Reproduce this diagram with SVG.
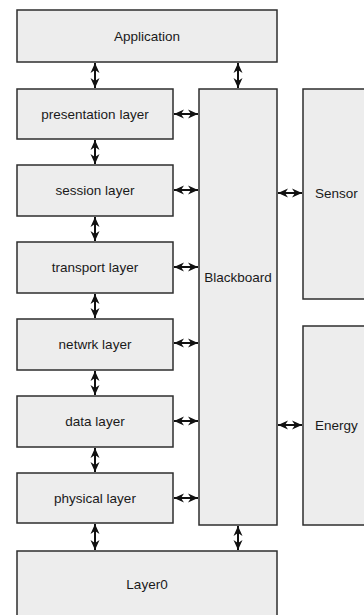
<svg xmlns="http://www.w3.org/2000/svg" width="364" height="615" viewBox="0 0 364 615">
  <style>
    .box { fill: #ededed; stroke: #2e2e2e; stroke-width: 1.5; }
    .lbl { font-family: "Liberation Sans", Arial, sans-serif; font-size: 13.5px; fill: #1a1a1a; text-anchor: middle; dominant-baseline: central; }
    .lbl-l { text-anchor: start; }
    .link { stroke: #111; stroke-width: 2; fill: none; marker-start: url(#head); marker-end: url(#head); }
  </style>
  <defs>
    <!-- notched double-ended arrow tip -->
    <marker id="head" viewBox="0 0 10 10" refX="10" refY="5" markerWidth="10" markerHeight="10" markerUnits="userSpaceOnUse" orient="auto-start-reverse">
      <path d="M10,5 L0,0.5 L3,5 L0,9.5 Z" fill="#111"/>
    </marker>
  </defs>
  <rect width="364" height="615" fill="#ffffff"/>

  <g id="application"><rect class="box" x="17" y="10" width="260" height="52"/><text class="lbl" x="147" y="36">Application</text></g>
  <g id="presentation"><rect class="box" x="17" y="89" width="156" height="50"/><text class="lbl" x="95" y="114">presentation layer</text></g>
  <g id="session"><rect class="box" x="17" y="165" width="156" height="51"/><text class="lbl" x="95" y="190">session layer</text></g>
  <g id="transport"><rect class="box" x="17" y="242" width="156" height="51"/><text class="lbl" x="95" y="267">transport layer</text></g>
  <g id="network"><rect class="box" x="17" y="319" width="156" height="51"/><text class="lbl" x="95" y="344">netwrk layer</text></g>
  <g id="data"><rect class="box" x="17" y="396" width="156" height="51"/><text class="lbl" x="95" y="421">data layer</text></g>
  <g id="physical"><rect class="box" x="17" y="473" width="156" height="50"/><text class="lbl" x="95" y="498">physical layer</text></g>
  <g id="layer0"><rect class="box" x="17" y="551" width="260" height="70"/><text class="lbl" x="147" y="584">Layer0</text></g>
  <g id="blackboard"><rect class="box" x="199" y="89" width="78" height="436"/><text class="lbl" x="238" y="277">Blackboard</text></g>
  <g id="sensor"><rect class="box" x="303" y="89" width="70" height="210"/><text class="lbl lbl-l" x="315" y="193">Sensor</text></g>
  <g id="energy"><rect class="box" x="303" y="326" width="70" height="199"/><text class="lbl lbl-l" x="315" y="425">Energy</text></g>

  <g id="connectors">
    <line class="link" x1="95" y1="63" x2="95" y2="88"/>
    <line class="link" x1="238" y1="63" x2="238" y2="88"/>
    <line class="link" x1="95" y1="140" x2="95" y2="164"/>
    <line class="link" x1="95" y1="217" x2="95" y2="241"/>
    <line class="link" x1="95" y1="294" x2="95" y2="318"/>
    <line class="link" x1="95" y1="371" x2="95" y2="395"/>
    <line class="link" x1="95" y1="448" x2="95" y2="472"/>
    <line class="link" x1="95" y1="524" x2="95" y2="550"/>
    <line class="link" x1="238" y1="526" x2="238" y2="550"/>
    <line class="link" x1="174" y1="114" x2="198" y2="114"/>
    <line class="link" x1="174" y1="190" x2="198" y2="190"/>
    <line class="link" x1="174" y1="267" x2="198" y2="267"/>
    <line class="link" x1="174" y1="343" x2="198" y2="343"/>
    <line class="link" x1="174" y1="421" x2="198" y2="421"/>
    <line class="link" x1="174" y1="498" x2="198" y2="498"/>
    <line class="link" x1="278" y1="193" x2="302" y2="193"/>
    <line class="link" x1="278" y1="425" x2="302" y2="425"/>
  </g>
</svg>
